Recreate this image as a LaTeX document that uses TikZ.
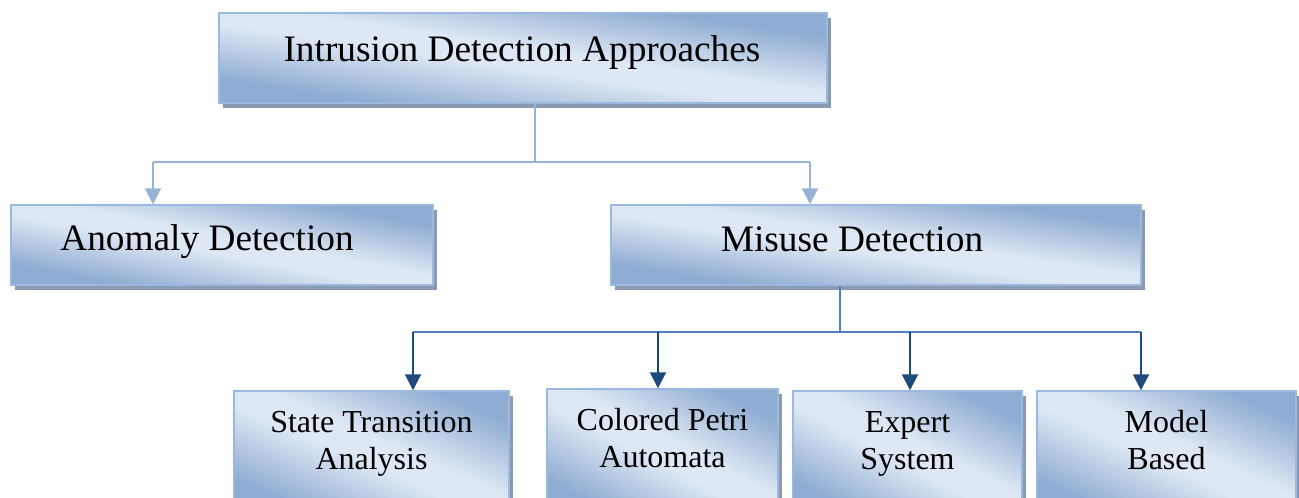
\documentclass[tikz,border=0pt]{standalone}
\usepackage{fontspec}
\setmainfont{Liberation Serif}
\usetikzlibrary{arrows.meta,shadows}

\definecolor{boxdark}{RGB}{143,172,210}
\definecolor{boxlight}{RGB}{222,232,244}
\definecolor{boxedge}{RGB}{155,185,222}
\definecolor{boxshadow}{RGB}{138,154,178}
\definecolor{linklight}{RGB}{149,179,215}
\definecolor{linkmid}{RGB}{79,129,189}
\definecolor{linkdark}{RGB}{31,73,125}

% two-sided gradient, light in the middle
\pgfdeclareverticalshading{boxshade}{100bp}{%
  color(0bp)=(boxdark); color(24bp)=(boxdark); color(46bp)=(boxlight);
  color(54bp)=(boxlight); color(76bp)=(boxdark); color(100bp)=(boxdark)}

\tikzset{
  % the gradient runs across the box diagonal (top left to bottom right stays light)
  boxfill/.style={path picture={
    \pgfpointanchor{path picture bounding box}{south west}\pgfgetlastxy{\bxa}{\bya}
    \pgfpointanchor{path picture bounding box}{north east}\pgfgetlastxy{\bxb}{\byb}
    \pgfmathsetmacro\bsx{(\bxb-\bxa)/50.1875}
    \pgfmathsetmacro\bsy{(\byb-\bya)/50.1875}
    \pgftransformshift{\pgfpoint{(\bxa+\bxb)/2}{(\bya+\byb)/2}}
    \pgftransformcm{\bsx}{0}{0}{\bsy}{\pgfpointorigin}
    \pgftransformrotate{-45}
    \pgflowlevelsynccm
    \pgftext{\pgfuseshading{boxshade}}
  }},
  box/.style={draw=boxedge, line width=1.1pt, boxfill,
    general shadow={fill=boxshadow, shadow xshift=3pt, shadow yshift=-3.75pt},
    inner sep=0pt},
  bigtext/.style={font=\fontsize{28}{33}\selectfont, anchor=base, inner sep=0pt},
  smalltext/.style={font=\fontsize{24}{28}\selectfont, anchor=base, inner sep=0pt},
  lightlink/.style={draw=linklight, line width=1.5pt},
  midlink/.style={draw=linkmid, line width=1.5pt},
  darkarrow/.style={draw=linkdark, line width=1.5pt,
    -{Triangle[width=12pt,length=12pt]}},
  lightarrow/.style={draw=linklight, line width=1.5pt,
    -{Triangle[width=12pt,length=12pt]}},
}

\begin{document}
\begin{tikzpicture}[x=0.75pt,y=-0.75pt]
\useasboundingbox (0,0) rectangle (1299,497);
\clip (0,0) rectangle (1299,497);

% boxes
\node[box, minimum width=456pt, minimum height=67.5pt] (top) at (523,58) {};
\node[box, minimum width=316.5pt, minimum height=60pt] (anom) at (222,245) {};
\node[box, minimum width=397.5pt, minimum height=60pt] (misuse) at (876,245) {};
\node[box, minimum width=206.25pt, minimum height=90pt] (sta) at (371.5,451) {};
\node[box, minimum width=173.25pt, minimum height=91.5pt] (cpa) at (662.5,450) {};
\node[box, minimum width=171.75pt, minimum height=90pt] (es) at (907.5,451) {};
\node[box, minimum width=194.25pt, minimum height=90pt] (mb) at (1166.5,451) {};

% labels
\node[bigtext] (topT) at (522,61) {Intrusion Detection Approaches};
\node[bigtext] (anomT) at (207,250) {Anomaly Detection};
\node[bigtext] (misuseT) at (852,251) {Misuse Detection};
\node[smalltext] (staA) at (371.5,432) {State Transition};
\node[smalltext] (staB) at (371.5,469) {Analysis};
\node[smalltext] (cpaA) at (662.5,430) {Colored Petri};
\node[smalltext] (cpaB) at (662.5,467) {Automata};
\node[smalltext] (esA) at (907.5,432) {Expert};
\node[smalltext] (esB) at (907.5,469) {System};
\node[smalltext] (mbA) at (1166.5,432) {Model};
\node[smalltext] (mbB) at (1166.5,469) {Based};

% upper level connectors
\coordinate (hubT) at (535,162);
\coordinate (xa) at (153,162);
\coordinate (xm) at (810,162);
\draw[lightlink] (hubT |- top.south) -- (hubT);
\draw[lightlink] (xa) -- (xm);
\draw[lightarrow] (xa) -- (xa |- anom.north);
\draw[lightarrow] (xm) -- (xm |- misuse.north);

% lower level connectors
\coordinate (hubB) at (840,332);
\coordinate (x1) at (413,332);
\coordinate (x2) at (658,332);
\coordinate (x3) at (910,332);
\coordinate (x4) at (1141,332);
\draw[midlink] (hubB |- misuse.south) -- (hubB);
\draw[midlink] (x1) -- (x4);
\draw[darkarrow] (x1) -- (x1 |- sta.north);
\draw[darkarrow] (x2) -- (x2 |- cpa.north);
\draw[darkarrow] (x3) -- (x3 |- es.north);
\draw[darkarrow] (x4) -- (x4 |- mb.north);
\end{tikzpicture}
\end{document}
